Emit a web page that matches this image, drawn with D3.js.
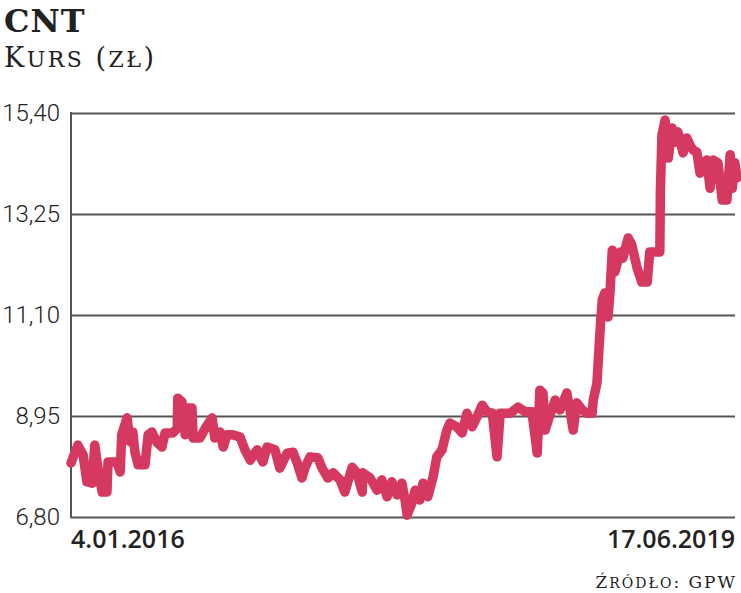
<!DOCTYPE html>
<html>
<head>
<meta charset="utf-8">
<script src="https://cdn.jsdelivr.net/npm/d3@7"></script>
<style>
body { margin: 0; background: #fff; }
.sc { font-variant: small-caps; }
</style>
</head>
<body>
<script>
// CNT share price, 4.01.2016 - 17.06.2019
var startDate = new Date(2016, 0, 4);
var endDate = new Date(2019, 5, 17);

// days after 4.01.2016
var days = [0, 13, 23, 30, 40, 45, 51, 59, 68, 70, 87, 93, 96, 106, 112, 117, 121, 127, 140, 146,
    153, 163, 172, 178, 193, 201, 202, 210, 216, 221, 229, 231, 244, 254, 267, 272, 282, 288, 295, 306,
    320, 329, 339, 352, 363, 371, 386, 395, 409, 420, 428, 437, 443, 452, 467, 475, 486, 496, 509, 518,
    532, 541, 551, 552, 566, 579, 588, 598, 607, 617, 626, 632, 636, 645, 651, 660, 666, 675,
    685, 692, 702, 711, 717, 730, 740, 749, 759, 768, 778, 787, 797, 806, 812, 831, 846, 859, 872, 882,
    887, 893, 897, 906, 916, 925, 938, 944, 950, 957, 967, 976, 986, 988, 995, 1001, 1005, 1010, 1016, 1020,
    1024, 1029, 1039, 1044, 1054, 1061, 1071, 1080, 1090, 1095, 1114, 1115, 1118, 1124, 1130, 1137, 1143, 1148,
    1158, 1165, 1171, 1177, 1184, 1190, 1196, 1203, 1209, 1215, 1224, 1232, 1241, 1247, 1251, 1256, 1260];

// price (zl)
var prices = [7.95, 8.33, 8.12, 7.55, 7.52, 8.33, 7.84, 7.33, 7.33, 7.97, 7.97, 7.76, 8.55, 8.91, 8.40, 8.61, 8.18, 7.91, 7.91, 8.55,
    8.61, 8.38, 8.29, 8.59, 8.59, 8.69, 9.33, 9.25, 8.55, 9.12, 9.12, 8.48, 8.48, 8.69, 8.91, 8.48, 8.61, 8.29, 8.55, 8.55,
    8.50, 8.23, 8.01, 8.23, 7.97, 8.29, 8.23, 7.84, 8.16, 8.18, 7.95, 7.63, 7.86, 8.08, 8.06, 7.84, 7.63, 7.74, 7.59, 7.33,
    7.86, 7.74, 7.33, 7.74, 7.63, 7.37, 7.59, 7.23, 7.55, 7.27, 7.52, 7.16, 6.84, 7.10, 7.37, 7.16, 7.52, 7.23,
    7.65, 8.08, 8.23, 8.65, 8.80, 8.72, 8.59, 9.01, 8.72, 8.93, 9.18, 9.04, 9.01, 8.08, 9.01, 9.01, 9.14, 9.04, 9.04, 8.16,
    9.50, 9.44, 8.65, 8.97, 9.29, 9.08, 9.44, 9.08, 8.65, 9.23, 9.08, 9.01, 9.01, 9.29, 9.65, 10.78, 11.42, 11.57, 11.06, 11.63,
    12.48, 12.02, 12.44, 12.31, 12.74, 12.59, 12.10, 11.80, 11.80, 12.44, 12.44, 13.72, 14.93, 15.25, 14.44, 15.08, 14.78, 15.00,
    14.55, 14.87, 14.72, 14.61, 14.57, 14.12, 14.34, 14.40, 13.80, 14.40, 14.34, 13.55, 13.55, 14.51, 13.80, 14.34, 14.02];

var yTicks = [6.80, 8.95, 11.10, 13.25, 15.40];
var xLabels = ["4.01.2016", "17.06.2019"];

var svg = d3.select("body").append("svg").attr("width", 741).attr("height", 593);

var x = d3.scaleTime().domain([startDate, endDate]).range([71, 737]);
var y = d3.scaleLinear().domain([6.80, 15.40]).range([517, 113]);

var data = [];
for (var i = 0; i < days.length; i++) {
    data.push({ date: d3.timeDay.offset(startDate, days[i]), value: prices[i] });
}

// title
svg.append("text")
    .attr("x", 4).attr("y", 32)
    .style("font-family", "'DejaVu Serif'")
    .style("font-weight", "bold")
    .style("font-size", "32px")
    .style("letter-spacing", "1px")
    .style("fill", "#222")
    .text("CNT");

// small caps made of pieces: [text, size, smallcaps]
function smallCaps(sel, parts) {
    parts.forEach(function (p) {
        sel.append("tspan")
            .attr("class", p[2] ? "sc" : null)
            .style("font-size", p[1] + "px")
            .text(p[0]);
    });
}

var sub = svg.append("text")
    .attr("x", 4).attr("y", 67)
    .style("font-family", "'DejaVu Serif'")
    .style("letter-spacing", "2.5px")
    .style("fill", "#222");
smallCaps(sub, [["K", 27, false], ["urs", 31, true], [" (", 27, false], ["zł", 31, true], [")", 27, false]]);

// grid + y labels
var yAxis = svg.append("g")
    .attr("transform", "translate(71,0)")
    .call(d3.axisLeft(y).tickValues(yTicks).tickSize(-664).tickPadding(11)
        .tickFormat(function (d) { return d3.format(".2f")(d).replace(".", ","); }));
yAxis.select(".domain").remove();
yAxis.selectAll(".tick line").style("stroke", "#555").style("stroke-width", 2);
yAxis.selectAll(".tick text")
    .style("font-family", "Roboto")
    .style("font-weight", 300)
    .style("font-size", "24px")
    .style("fill", "#222");

svg.append("line")
    .attr("x1", 71).attr("x2", 71)
    .attr("y1", y(15.40) - 1).attr("y2", y(6.80) + 1)
    .style("stroke", "#555").style("stroke-width", 2);

// price line
var line = d3.line()
    .x(function (d) { return x(d.date); })
    .y(function (d) { return y(d.value); });

svg.append("path")
    .datum(data)
    .attr("d", line)
    .style("fill", "none")
    .style("stroke", "#d6395f")
    .style("stroke-width", 9.5)
    .style("stroke-linejoin", "round")
    .style("stroke-linecap", "round");

// date labels
svg.append("text")
    .attr("x", x(startDate)).attr("y", 548)
    .style("font-family", "'Open Sans'")
    .style("font-weight", 600)
    .style("font-size", "25px")
    .style("fill", "#222")
    .text(xLabels[0]);

svg.append("text")
    .attr("x", 735).attr("y", 548)
    .attr("text-anchor", "end")
    .style("font-family", "'Open Sans'")
    .style("font-weight", 600)
    .style("font-size", "25px")
    .style("fill", "#222")
    .text(xLabels[1]);

// source
var src = svg.append("text")
    .attr("x", 737).attr("y", 588)
    .attr("text-anchor", "end")
    .style("font-family", "'DejaVu Serif'")
    .style("letter-spacing", "2px")
    .style("fill", "#222");
smallCaps(src, [["Ź", 17, false], ["ródło", 20, true], [": GPW", 17, false]]);
</script>
</body>
</html>
